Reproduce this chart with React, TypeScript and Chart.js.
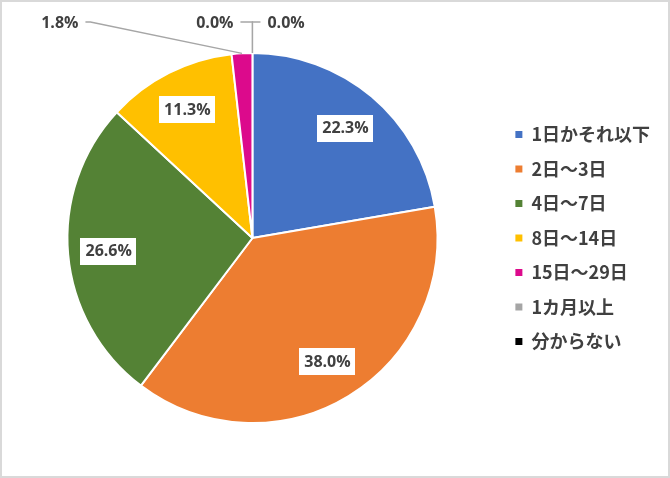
import React, { useEffect, useRef } from "react";
import { Chart, registerables } from "chart.js";

Chart.register(...registerables);

const categories = ["1日かそれ以下", "2日～3日", "4日～7日", "8日～14日", "15日～29日", "1カ月以上", "分からない"];
const values = [22.3, 38.0, 26.6, 11.3, 1.8, 0.0, 0.0];
const colors = ["#4472C4", "#ED7D31", "#548235", "#FFC000", "#DC0A8C", "#A5A5A5", "#000000"];

// outer label layout for small slices: elbow x offset from center, horizontal tail length, side
const outerLayout: Record<number, { dx: number; tail: number; side: number }> = {
  4: { dx: -162, tail: 5, side: -1 },
  5: { dx: 0, tail: 12, side: -1 },
  6: { dx: 0, tail: 8, side: 1 },
};

const labelPlugin = {
  id: "sliceLabels",
  afterDatasetsDraw(chart: any) {
    const ctx = chart.ctx as CanvasRenderingContext2D;
    const meta = chart.getDatasetMeta(0);
    const data = chart.data.datasets[0].data as number[];
    ctx.save();
    ctx.font = "bold 16px 'Open Sans', sans-serif";
    ctx.textBaseline = "middle";
    meta.data.forEach((arc: any, i: number) => {
      const p = arc.getProps(["x", "y", "startAngle", "endAngle", "outerRadius"], true);
      const mid = (p.startAngle + p.endAngle) / 2;
      const text = data[i].toFixed(1) + "%";
      if (data[i] >= 5) {
        const lx = p.x + Math.cos(mid) * p.outerRadius * 0.78;
        const ly = p.y + Math.sin(mid) * p.outerRadius * 0.78;
        const w = ctx.measureText(text).width;
        ctx.fillStyle = "#FFFFFF";
        ctx.fillRect(Math.round(lx - w / 2 - 5), Math.round(ly - 13), Math.round(w + 10), 27);
        ctx.fillStyle = "#404040";
        ctx.textAlign = "center";
        ctx.fillText(text, lx, ly + 1);
      } else {
        const lay = outerLayout[i] || { dx: 0, tail: 8, side: 1 };
        const ex = p.x + Math.cos(mid) * p.outerRadius;
        const ey = p.y + Math.sin(mid) * p.outerRadius;
        const ly = p.y - p.outerRadius - 31;
        const bx = p.x + lay.dx;
        const tx = bx + lay.side * lay.tail;
        ctx.strokeStyle = "#A6A6A6";
        ctx.lineWidth = 1.3;
        ctx.beginPath();
        ctx.moveTo(ex, ey);
        ctx.lineTo(bx, ly);
        ctx.lineTo(tx, ly);
        ctx.stroke();
        ctx.fillStyle = "#404040";
        ctx.textAlign = lay.side < 0 ? "right" : "left";
        ctx.fillText(text, tx + lay.side * 7, ly + 1);
      }
    });
    ctx.restore();
  },
};

export default function App() {
  const ref = useRef<HTMLCanvasElement>(null);
  useEffect(() => {
    document.body.style.margin = "0";
    const chart = new Chart(ref.current!, {
      type: "pie",
      data: {
        labels: categories,
        datasets: [
          {
            data: values,
            backgroundColor: colors,
            borderColor: "#FFFFFF",
            borderWidth: 2,
          },
        ],
      },
      options: {
        animation: false,
        responsive: false,
        layout: { padding: { top: 50, bottom: 52, left: 4, right: 8 } },
        plugins: {
          tooltip: { enabled: false },
          legend: {
            position: "right",
            labels: {
              boxWidth: 7,
              boxHeight: 7,
              padding: 16.5,
              color: "#404040",
              font: { family: "'Noto Sans CJK JP', sans-serif", size: 18, weight: "bold" },
              generateLabels: (c: any) => {
                const base = (Chart as any).overrides.pie.plugins.legend.labels.generateLabels(c);
                return base.map((l: any) => ({ ...l, lineWidth: 0, strokeStyle: l.fillStyle }));
              },
            },
          },
        },
      },
      plugins: [labelPlugin],
    });
    return () => chart.destroy();
  }, []);
  return (
    <div style={{ width: 670, height: 478, border: "2px solid #D9D9D9", boxSizing: "border-box", background: "#fff" }}>
      <canvas ref={ref} width={666} height={474} style={{ display: "block" }} />
    </div>
  );
}
